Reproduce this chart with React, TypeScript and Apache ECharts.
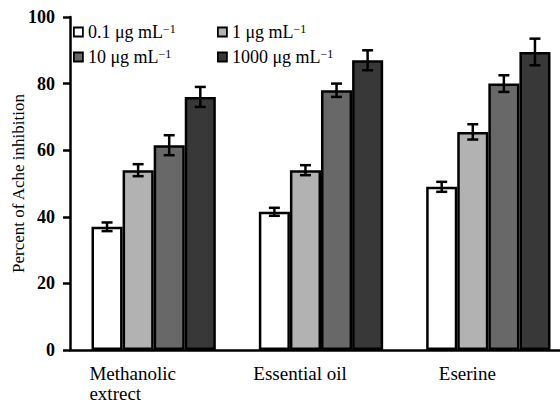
import React, { useEffect, useRef } from "react";
import * as echarts from "echarts";

const categories = ["Methanolic\nextrect", "Essential oil", "Eserine"];
const seriesNames = ["0.1 μg mL", "1 μg mL", "10 μg mL", "1000 μg mL"];
const v01 = [37, 41.5, 49];
const v1 = [54, 54, 65.5];
const v10 = [61.5, 78, 80];
const v1000 = [76, 87, 89.5];
const e01 = [1.3, 1.2, 1.5];
const e1 = [1.8, 1.5, 2.3];
const e10 = [3, 2, 2.5];
const e1000 = [3, 3, 4];
const yTicks = [0, 20, 40, 60, 80, 100];

const values = [v01, v1, v10, v1000];
const errors = [e01, e1, e10, e1000];
const colors = ["#ffffff", "#b2b2b2", "#686868", "#383838"];
const FONT = "Liberation Serif";
const GAP = 0.257;

export default function App() {
  const ref = useRef<HTMLDivElement>(null);
  useEffect(() => {
    document.body.style.margin = "0";
    const chart = echarts.init(ref.current!, null, { renderer: "svg" });
    const errData: number[][] = [];
    values.forEach((arr, s) =>
      arr.forEach((v, c) => errData.push([c, s, v, errors[s][c]]))
    );
    const legendText = {
      color: "#000",
      fontFamily: FONT,
      fontSize: 18,
      rich: {
        t: { fontSize: 18, fontFamily: FONT, color: "#000", lineHeight: 18 },
        s: { fontSize: 12, fontFamily: FONT, color: "#000", verticalAlign: "top", lineHeight: 11 },
      },
    };
    const legendCommon = {
      orient: "vertical",
      top: 23,
      padding: 0,
      itemGap: 7,
      itemWidth: 9,
      itemHeight: 9,
      icon: "rect",
      itemStyle: { borderColor: "#000", borderWidth: 1.8 },
      textStyle: legendText,
      formatter: (n: string) => `{t|${n}}{s|−1}`,
      selectedMode: false,
    };
    chart.setOption({
      animation: false,
      textStyle: { fontFamily: FONT },
      grid: {
        left: 70,
        top: 17,
        bottom: 54,
        right: -12,
        containLabel: false,
        outerBoundsMode: "none",
      },
      legend: [
        { ...legendCommon, left: 73, data: [seriesNames[0], seriesNames[2]] },
        { ...legendCommon, left: 217, data: [seriesNames[1], seriesNames[3]] },
      ],
      xAxis: {
        type: "category",
        data: categories,
        axisLine: { lineStyle: { color: "#000", width: 2.5 } },
        axisTick: { length: 8, lineStyle: { color: "#000", width: 2.5 } },
        axisLabel: {
          interval: 0,
          color: "#000",
          fontFamily: FONT,
          fontSize: 19,
          margin: 13,
          padding: [0, 42, 0, 0],
          formatter: (v: string) =>
            v
              .split("\n")
              .map((l) => `{c|${l}}`)
              .join("\n"),
          rich: {
            c: { fontSize: 19, fontFamily: FONT, color: "#000", align: "left", lineHeight: 20 },
          },
        },
      },
      yAxis: {
        type: "value",
        min: yTicks[0],
        max: yTicks[yTicks.length - 1],
        interval: 20,
        name: "Percent of Ache inhibition",
        nameLocation: "middle",
        nameGap: 43,
        nameRotate: 90,
        nameMoveOverlap: false,
        nameTextStyle: { color: "#000", fontFamily: FONT, fontSize: 17 },
        splitLine: { show: false },
        axisLine: { show: true, lineStyle: { color: "#000", width: 2.5 } },
        axisTick: { show: true, length: 7, lineStyle: { color: "#000", width: 2.5 } },
        axisLabel: {
          color: "#000",
          fontFamily: FONT,
          fontSize: 18,
          fontWeight: "bold",
          margin: 15,
        },
      },
      series: [
        ...values.map((arr, s) => ({
          type: "bar",
          name: seriesNames[s],
          data: arr,
          barGap: "0%",
          barCategoryGap: GAP * 100 + "%",
          itemStyle: { color: colors[s], borderColor: "#000", borderWidth: 2.5 },
        })),
        {
          type: "custom",
          name: "err",
          data: errData,
          z: 10,
          encode: { x: 0, y: 2 },
          renderItem: (params: any, api: any) => {
            const c = api.value(0);
            const s = api.value(1);
            const v = api.value(2);
            const e = api.value(3);
            const band = api.size([1, 0])[0];
            const bw = (band * (1 - GAP)) / 4;
            const cx = api.coord([c, 0])[0] + (s - 1.5) * bw;
            const top = api.coord([c, v + e])[1];
            const bot = api.coord([c, v - e])[1];
            const hw = 5.5;
            const st = { stroke: "#000", lineWidth: 2.5 };
            return {
              type: "group",
              children: [
                { type: "line", shape: { x1: cx, y1: top, x2: cx, y2: bot }, style: st },
                { type: "line", shape: { x1: cx - hw, y1: top, x2: cx + hw, y2: top }, style: st },
                { type: "line", shape: { x1: cx - hw, y1: bot, x2: cx + hw, y2: bot }, style: st },
              ],
            };
          },
        },
      ],
    });
    return () => chart.dispose();
  }, []);
  return (
    <div
      ref={ref}
      style={{ position: "absolute", left: 0, top: 0, width: 560, height: 404, background: "#fff" }}
    />
  );
}
